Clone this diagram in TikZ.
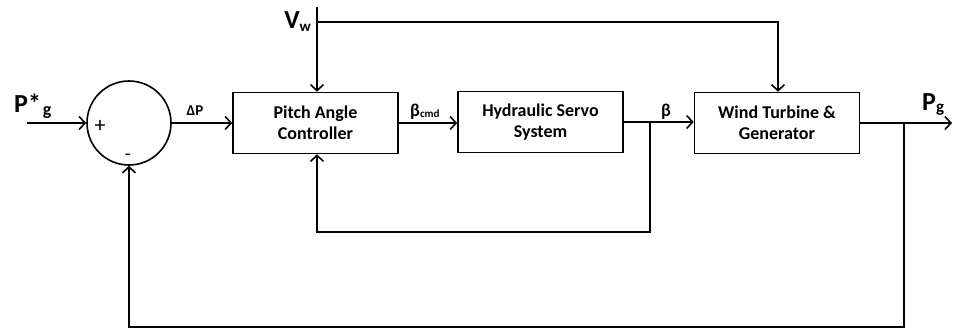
\documentclass[tikz,border=0pt]{standalone}
\usepackage{fontspec}
\setmainfont{Carlito}
\usetikzlibrary{arrows.meta}
\tikzset{
  blk/.style={draw, line width=1.6pt, minimum width=165pt, minimum height=61pt, align=center, font=\bfseries\fontsize{18}{21}\selectfont},
  sig/.style={line width=1.6pt, -{Straight Barb[length=6pt,width=13pt,line width=1.6pt]}},
  lbl/.style={font=\bfseries\fontsize{26}{28}\selectfont, inner sep=0pt},
  slbl/.style={font=\bfseries\fontsize{15}{17}\selectfont, inner sep=0pt}
}
\begin{document}
\begin{tikzpicture}[x=1pt,y=-1pt]
\useasboundingbox (0,0) rectangle (955,330);
\node[draw, circle, line width=1.6pt, minimum size=84pt, inner sep=0pt] (sum) at (129,123) {};
\node[blk] (pac) at (315.5,123) {Pitch Angle\\Controller};
\node[blk] (hss) at (540.5,122) {Hydraulic Servo\\System};
\node[blk] (wtg) at (777,123) {Wind Turbine \&\\Generator};
\coordinate (in) at (27,123);
\coordinate (vw) at (317,7);
\coordinate (vwj) at (317,22);
\coordinate (vwr) at (778,22);
\coordinate (b1) at (650,122);
\coordinate (b2) at (650,232);
\coordinate (b3) at (317,232);
\coordinate (p1) at (904,123);
\coordinate (p2) at (904,327);
\coordinate (p3) at (129,327);
\coordinate (out) at (952,123);
% forward path
\draw[sig] (in) -- (sum.west);
\draw[sig] (sum.east) -- (pac.west);
\draw[sig] (pac.east) -- (hss.west |- pac.east);
\draw[sig] (hss.east) -- (wtg.west |- hss.east);
\draw[sig] (wtg.east) -- (out);
% wind speed
\draw[sig] (vw) -- (pac.north -| vw);
\draw[sig] (vwj) -- (vwr) -- (wtg.north -| vwr);
% inner feedback
\draw[sig] (b1) -- (b2) -- (b3) -- (pac.south -| b3);
% outer feedback
\draw[sig] (p1) -- (p2) -- (p3) -- (sum.south);
% labels
\node[lbl, anchor=base west] (lp) at (14,112) {P*\kern2pt\raisebox{-0.12em}{\fontsize{18}{18}\selectfont g}};
\node[lbl, anchor=base east] (lv) at (311,28) {V\raisebox{-0.12em}{\fontsize{15}{15}\selectfont w}};
\node[lbl, anchor=base west] (lpg) at (922,110) {P\raisebox{-0.1em}{\fontsize{17}{17}\selectfont g}};
\node[slbl, anchor=base] (ldp) at (195,115) {ΔP};
\node[slbl, anchor=base west] (lbc) at (410,116) {\fontsize{18}{18}\selectfont β\raisebox{-0.1em}{\fontsize{11}{11}\selectfont cmd}};
\node[slbl, anchor=base] (lb) at (666,116) {\fontsize{18}{18}\selectfont β};
\node[font=\fontsize{22}{22}\selectfont, inner sep=0pt] (plus) at (100,126) {+};
\node[font=\fontsize{20}{20}\selectfont, inner sep=0pt] (minus) at (128,157) {-};
\end{tikzpicture}
\end{document}
